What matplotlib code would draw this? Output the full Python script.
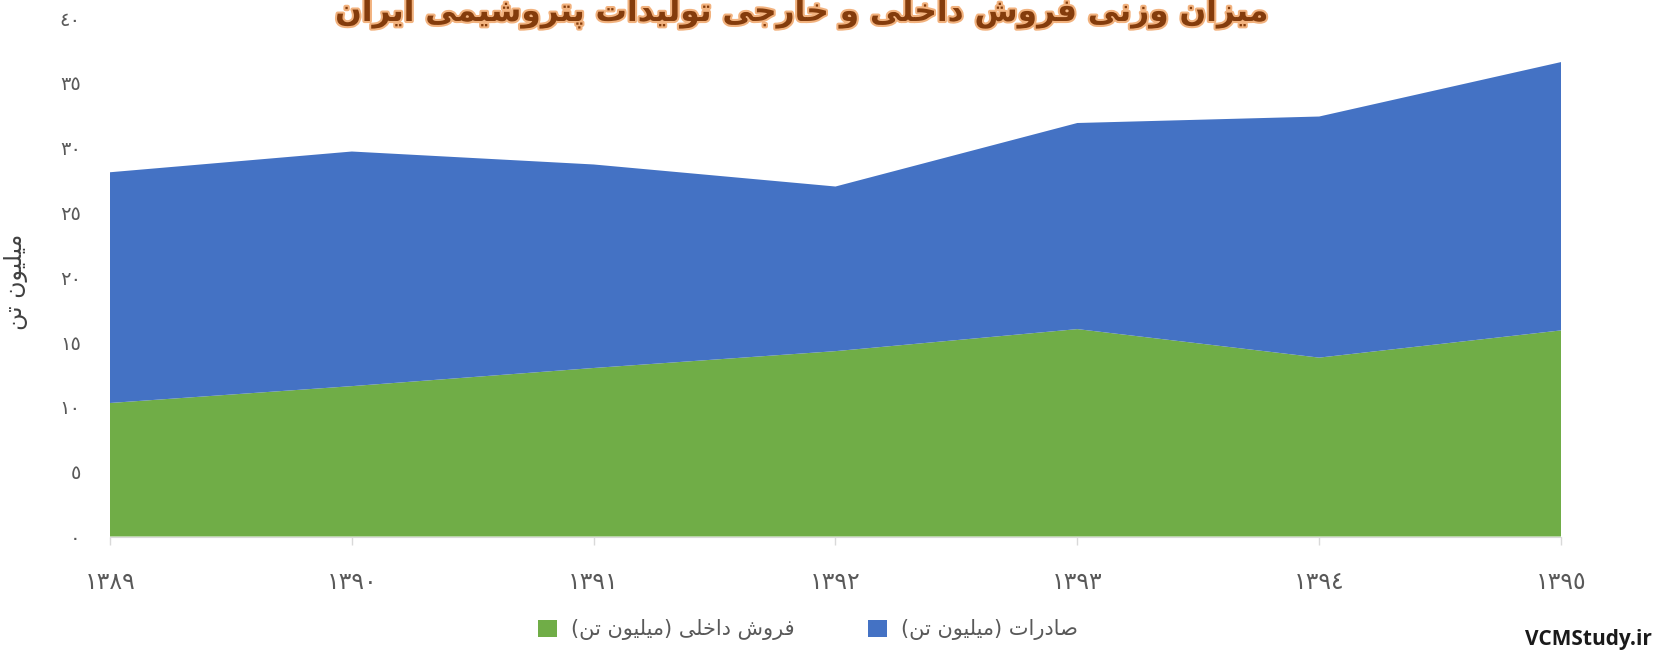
import matplotlib
matplotlib.use("Agg")
import matplotlib.pyplot as plt
import matplotlib.patheffects as pe
from matplotlib.patches import Patch

# سال‌ها و مقادیر (میلیون تن) خوانده شده از نمودار
years = ["١٣٨٩", "١٣٩٠", "١٣٩١", "١٣٩٢", "١٣٩٣", "١٣٩٤", "١٣٩٥"]
domestic = [10.3, 11.6, 13.0, 14.3, 16.0, 13.8, 15.9]
exports = [17.8, 18.1, 15.7, 12.7, 15.9, 18.6, 20.7]
y_ticks = [0, 5, 10, 15, 20, 25, 30, 35, 40]
y_tick_labels = ["٠", "٥", "١٠", "١٥", "٢٠", "٢٥", "٣٠", "٣٥", "٤٠"]

title_txt = "میزان وزنی فروش داخلی و خارجی تولیدات پتروشیمی ایران"
ylabel_txt = "میلیون تن"
legend_txt = ["فروش داخلی (میلیون تن)", "صادرات (میلیون تن)"]

# شکل‌دهی ساده حروف فارسی (matplotlib خودش اتصال حروف را انجام نمی‌دهد)
# حرف: (تنها، پایانی، آغازی، میانی)
forms = {
    "ا": ("\uFE8D", "\uFE8E", None, None),
    "ب": ("\uFE8F", "\uFE90", "\uFE91", "\uFE92"),
    "پ": ("\uFB56", "\uFB57", "\uFB58", "\uFB59"),
    "ت": ("\uFE95", "\uFE96", "\uFE97", "\uFE98"),
    "ج": ("\uFE9D", "\uFE9E", "\uFE9F", "\uFEA0"),
    "خ": ("\uFEA5", "\uFEA6", "\uFEA7", "\uFEA8"),
    "د": ("\uFEA9", "\uFEAA", None, None),
    "ر": ("\uFEAD", "\uFEAE", None, None),
    "ز": ("\uFEAF", "\uFEB0", None, None),
    "س": ("\uFEB1", "\uFEB2", "\uFEB3", "\uFEB4"),
    "ش": ("\uFEB5", "\uFEB6", "\uFEB7", "\uFEB8"),
    "ص": ("\uFEB9", "\uFEBA", "\uFEBB", "\uFEBC"),
    "ف": ("\uFED1", "\uFED2", "\uFED3", "\uFED4"),
    "ل": ("\uFEDD", "\uFEDE", "\uFEDF", "\uFEE0"),
    "م": ("\uFEE1", "\uFEE2", "\uFEE3", "\uFEE4"),
    "ن": ("\uFEE5", "\uFEE6", "\uFEE7", "\uFEE8"),
    "ه": ("\uFEE9", "\uFEEA", "\uFEEB", "\uFEEC"),
    "و": ("\uFEED", "\uFEEE", None, None),
    "ی": ("\uFBFC", "\uFBFD", "\uFBFE", "\uFBFF"),
}
mirror = {"(": ")", ")": "("}


def fa(s):
    out = []
    for i, ch in enumerate(s):
        if ch not in forms:
            out.append(ch)
            continue
        prev = s[i - 1] if i > 0 else ""
        nxt = s[i + 1] if i + 1 < len(s) else ""
        # حرف قبلی به بعدی وصل می‌شود؟
        join_prev = prev in forms and forms[prev][2] is not None
        join_next = nxt in forms and forms[ch][2] is not None
        iso, fin, ini, med = forms[ch]
        if join_prev and join_next:
            out.append(med)
        elif join_prev:
            out.append(fin)
        elif join_next:
            out.append(ini)
        else:
            out.append(iso)
    return "".join(mirror.get(c, c) for c in reversed(out))


plt.rcParams["font.family"] = ["DejaVu Sans"]

fig = plt.figure(figsize=(16.56, 6.56), dpi=100)
ax = fig.add_axes([110 / 1656, 119.5 / 656, 1451 / 1656, 518.5 / 656])

x = list(range(len(years)))
green = "#70AD47"
blue = "#4472C4"
ax.stackplot(x, domestic, exports, colors=[green, blue], linewidth=0)

ax.set_xlim(0, len(years) - 1)
ax.set_ylim(0, 40)
ax.set_xticks(x)
ax.set_xticklabels(years, fontsize=17, color="#595959")
ax.set_yticks(y_ticks)
ax.set_yticklabels(y_tick_labels, fontsize=14, color="#595959")
ax.tick_params(axis="y", length=0, pad=21)
ax.tick_params(axis="x", length=6, pad=18, color="#D9D9D9", width=1)
for s in ["top", "right", "left"]:
    ax.spines[s].set_visible(False)
ax.spines["bottom"].set_color("#D9D9D9")

fig.text(16 / 1656, 1 - 282 / 656, fa(ylabel_txt), rotation=90, ha="center",
         va="center", fontsize=17, color="#404040")

t = fig.text(802 / 1656, 1 - 13 / 656, fa(title_txt), ha="center", va="center",
             fontsize=22.5, fontweight="bold", color="#843C0C")
t.set_path_effects([pe.withStroke(linewidth=3, foreground="#F2B27E")])

handles = [Patch(facecolor=green), Patch(facecolor=blue)]
fig.legend(handles, [fa(l) for l in legend_txt], loc="center",
           bbox_to_anchor=(808 / 1656, 26 / 656), ncol=2, frameon=False,
           fontsize=15, labelcolor="#595959", handlelength=0.9,
           handleheight=0.9, columnspacing=3.5, handletextpad=0.7)

fig.text(1652 / 1656, 17 / 656, "VCMStudy.ir", ha="right", va="center",
         fontsize=15, fontweight="bold", family=["Open Sans", "DejaVu Sans"],
         color="#1a1a1a")

fig.savefig("out.png", dpi=100)
